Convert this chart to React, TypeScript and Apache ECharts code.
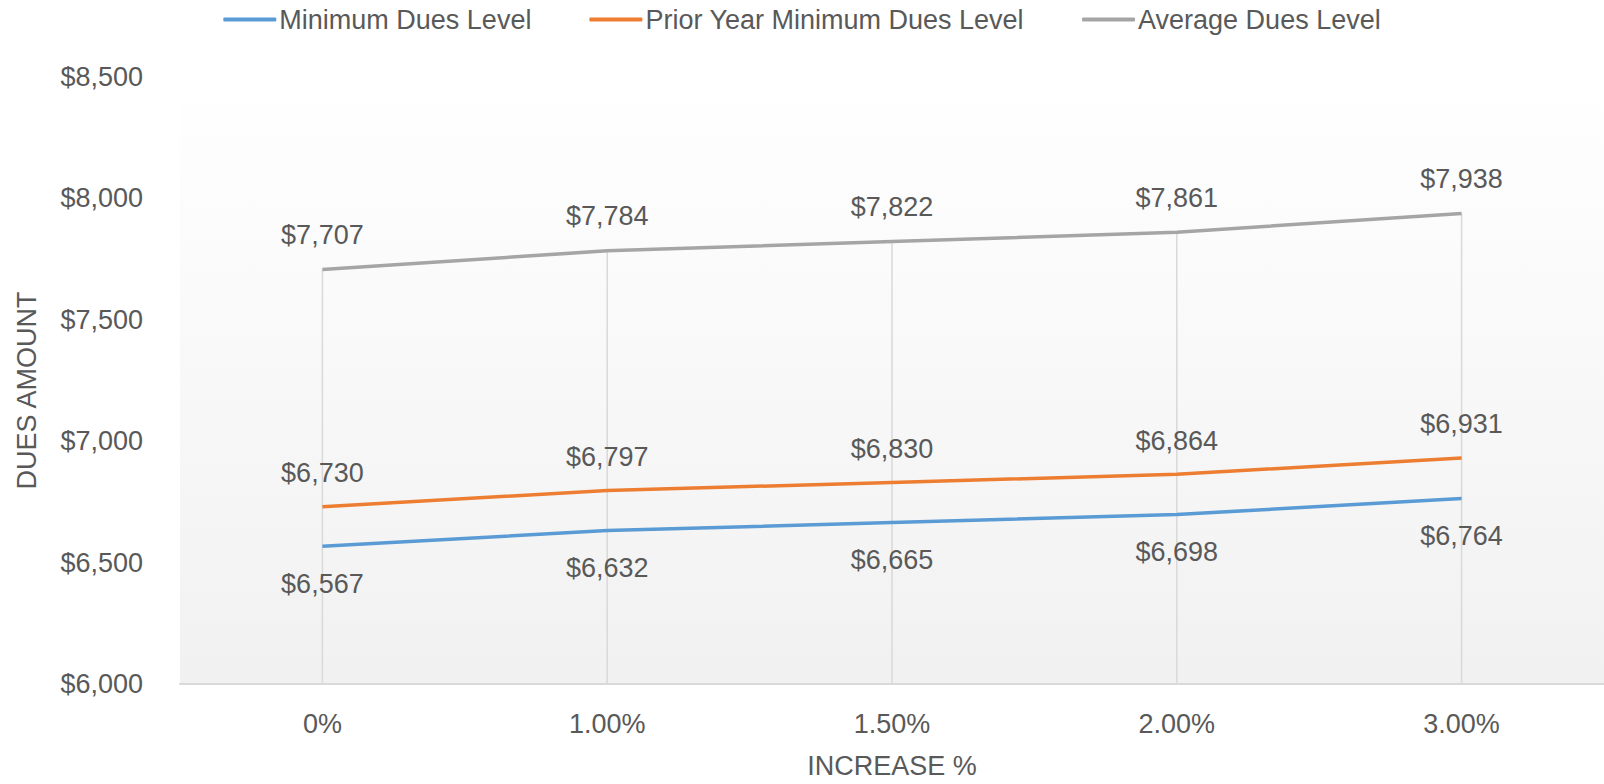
import React, { useEffect, useRef } from 'react';
import * as echarts from 'echarts';

const categories = ['0%', '1.00%', '1.50%', '2.00%', '3.00%'];
const minimumDues = [6567, 6632, 6665, 6698, 6764];
const priorYearMinimumDues = [6730, 6797, 6830, 6864, 6931];
const averageDues = [7707, 7784, 7822, 7861, 7938];
const seriesNames = ['Minimum Dues Level', 'Prior Year Minimum Dues Level', 'Average Dues Level'];
const yMin = 6000;
const yMax = 8500;
const yInterval = 500;
const xAxisTitle = 'INCREASE %';
const yAxisTitle = 'DUES AMOUNT';

const FONT = '"Liberation Sans", Arial, sans-serif';
const TEXT = '#595959';
const FS = 27;
const fmt = (v: number) => '$' + Number(v).toLocaleString('en-US');

export default function App() {
  const ref = useRef<HTMLDivElement>(null);
  useEffect(() => {
    const chart = echarts.init(ref.current!, undefined, { renderer: 'svg' });
    const labelStyle = (pos: 'top' | 'bottom', dist: number) => ({
      show: true,
      position: pos,
      distance: dist,
      formatter: (p: any) => fmt(p.value),
      fontFamily: FONT,
      fontSize: FS,
      color: TEXT,
    });
    const lineSeries = (name: string, data: number[], color: string, pos: 'top' | 'bottom', dist: number) => ({
      name,
      type: 'line',
      data,
      z: 3,
      symbol: 'circle',
      symbolSize: 0,
      showSymbol: true,
      lineStyle: { color, width: 3.5 },
      itemStyle: { color },
      label: labelStyle(pos, dist),
    });
    chart.setOption({
      animation: false,
      backgroundColor: '#ffffff',
      textStyle: { fontFamily: FONT },
      legend: {
        data: seriesNames,
        top: 1,
        left: 'center',
        icon: 'roundRect',
        itemWidth: 53,
        itemHeight: 4,
        itemGap: 58,
        textStyle: { fontFamily: FONT, fontSize: FS, color: TEXT, padding: [0, 0, 0, -2] },
      },
      grid: {
        left: 180,
        right: 0,
        top: 77,
        bottom: 97,
        show: true,
        borderWidth: 0,
        backgroundColor: new echarts.graphic.LinearGradient(0, 0, 0, 1, [
          { offset: 0, color: '#ffffff' },
          { offset: 1, color: '#f1f1f1' },
        ]),
      },
      xAxis: {
        type: 'category',
        data: categories,
        boundaryGap: true,
        name: xAxisTitle,
        nameLocation: 'middle',
        nameGap: 68,
        nameTextStyle: { fontFamily: FONT, fontSize: FS, color: TEXT },
        axisLine: { lineStyle: { color: '#d9d9d9', width: 2 } },
        axisTick: { show: false },
        axisLabel: { fontFamily: FONT, fontSize: FS, color: TEXT, margin: 26 },
        splitLine: { show: false },
      },
      yAxis: {
        type: 'value',
        min: yMin,
        max: yMax,
        interval: yInterval,
        name: yAxisTitle,
        nameLocation: 'middle',
        nameGap: 140,
        nameRotate: 90,
        nameTextStyle: { fontFamily: FONT, fontSize: FS, color: TEXT, padding: [0, 0, 0, -20] },
        axisLine: { show: false },
        axisTick: { show: false },
        splitLine: { show: false },
        axisLabel: { fontFamily: FONT, fontSize: FS, color: TEXT, margin: 37, formatter: fmt },
      },
      series: [
        {
          name: 'Drop Lines',
          type: 'bar',
          data: averageDues,
          barWidth: 1.5,
          silent: true,
          z: 1,
          itemStyle: { color: '#d9d9d9' },
        },
        lineSeries(seriesNames[0], minimumDues, '#5b9bd5', 'bottom', 24),
        lineSeries(seriesNames[1], priorYearMinimumDues, '#ed7d31', 'top', 20),
        lineSeries(seriesNames[2], averageDues, '#a5a5a5', 'top', 21),
      ],
    });
    return () => chart.dispose();
  }, []);
  return (
    <div
      ref={ref}
      style={{ position: 'fixed', left: 0, top: 0, width: 1604, height: 784 }}
    />
  );
}
